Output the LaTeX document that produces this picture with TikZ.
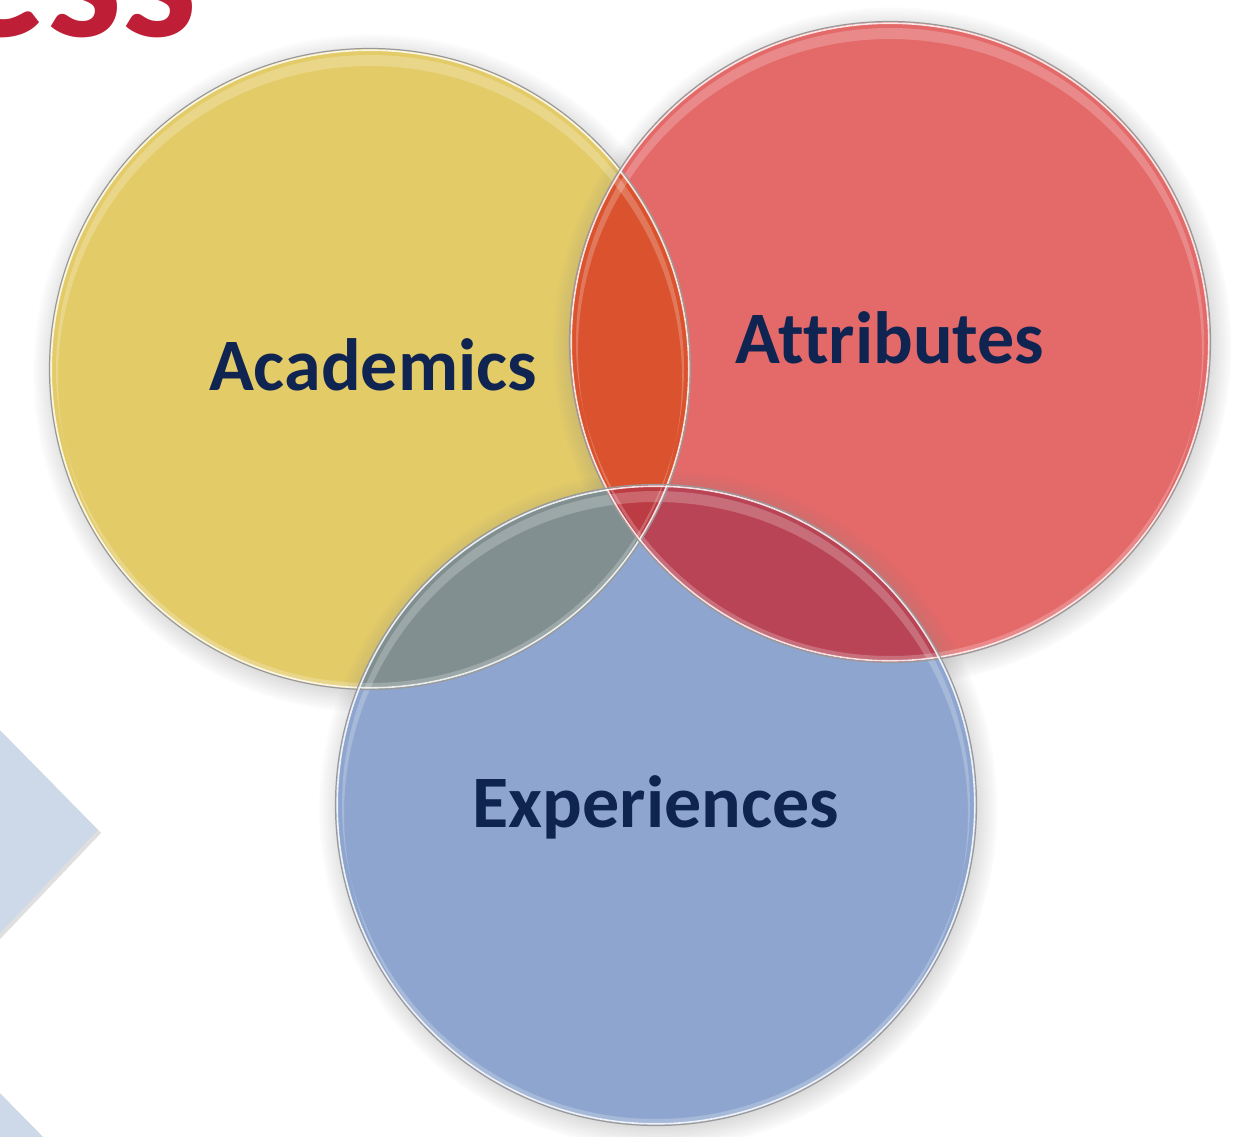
\documentclass[tikz,border=0pt]{standalone}
\usepackage{fontspec}
\setmainfont{Carlito}[Ligatures=NoCommon]
\usetikzlibrary{shadows,fadings}
\definecolor{cyel}{HTML}{E3CB68}
\definecolor{cred}{HTML}{E46969}
\definecolor{cblu}{HTML}{8EA6CF}
\definecolor{cyr}{HTML}{DA532E}
\definecolor{cyb}{HTML}{818F90}
\definecolor{crb}{HTML}{B94455}
\definecolor{cyrb}{HTML}{BC3C43}
\definecolor{ctext}{HTML}{0F2451}
\definecolor{ctitle}{HTML}{BE1E36}
\definecolor{cchev}{HTML}{CDD9E8}
\tikzset{
  venn/.style={circle, minimum size=640pt, inner sep=0pt,
    circular drop shadow={shadow xshift=2pt, shadow yshift=-4pt, shadow scale=1.06, opacity=0.6}},
  lbl/.style={anchor=base, text=ctext, font=\fontsize{74}{80}\selectfont\bfseries},
  chev/.style={fill=cchev, drop shadow={shadow xshift=3pt, shadow yshift=-3pt, opacity=0.25}},
  rimo/.style={draw=black!40, line width=1.2pt},
  rimi/.style={draw=white, line width=1.6pt, opacity=0.85},
  shine/.style={fill=white, opacity=0.22, even odd rule},
}
\begin{document}
\begin{tikzpicture}[x=1pt,y=-1pt]
\useasboundingbox (0,0) rectangle (1242,1137);
\fill[white] (0,0) rectangle (1242,1137);
\clip (0,0) rectangle (1242,1137);

% title fragment
\node[anchor=base east, text=ctitle, inner sep=0pt,
      font=\fontsize{190}{190}\selectfont\bfseries] (title) at (198,37) {ess};

% chevrons
\path[chev] (-20,710) -- (98,830) -- (-20,954) -- cycle;
\path[chev] (-20,1073) -- (98,1193) -- (-20,1313) -- cycle;

% circles
\node[venn, fill=cyel] (acad) at (370,369) {};
\node[venn, fill=cred] (attr) at (890,342) {};
\node[venn, fill=cblu] (exper) at (656,805) {};

% overlaps
\begin{scope}
  \clip (acad.center) circle (320pt);
  \fill[cyr] (attr.center) circle (320pt);
  \fill[cyb] (exper.center) circle (320pt);
\end{scope}
\begin{scope}
  \clip (attr.center) circle (320pt);
  \fill[crb] (exper.center) circle (320pt);
\end{scope}
\begin{scope}
  \clip (acad.center) circle (320pt);
  \clip (attr.center) circle (320pt);
  \fill[cyrb] (exper.center) circle (320pt);
\end{scope}

% top shine
\foreach \c in {acad,attr,exper}{
  \begin{scope}
    \clip (\c.center) circle (318pt);
    \fill[shine] (\c.center) circle (314pt) ([yshift=-9pt]\c.center) circle (312pt);
  \end{scope}
}

% rims
\foreach \c in {acad,attr,exper}{
  \draw[rimo] (\c.center) circle (320.5pt);
  \draw[rimi] (\c.center) circle (318.8pt);
}

% labels
\node[lbl] (tacad) at (373,390) {Academics};
\node[lbl] (tattr) at (890,363) {Attributes};
\node[lbl] (texper) at (656,827) {Experiences};
\end{tikzpicture}
\end{document}
